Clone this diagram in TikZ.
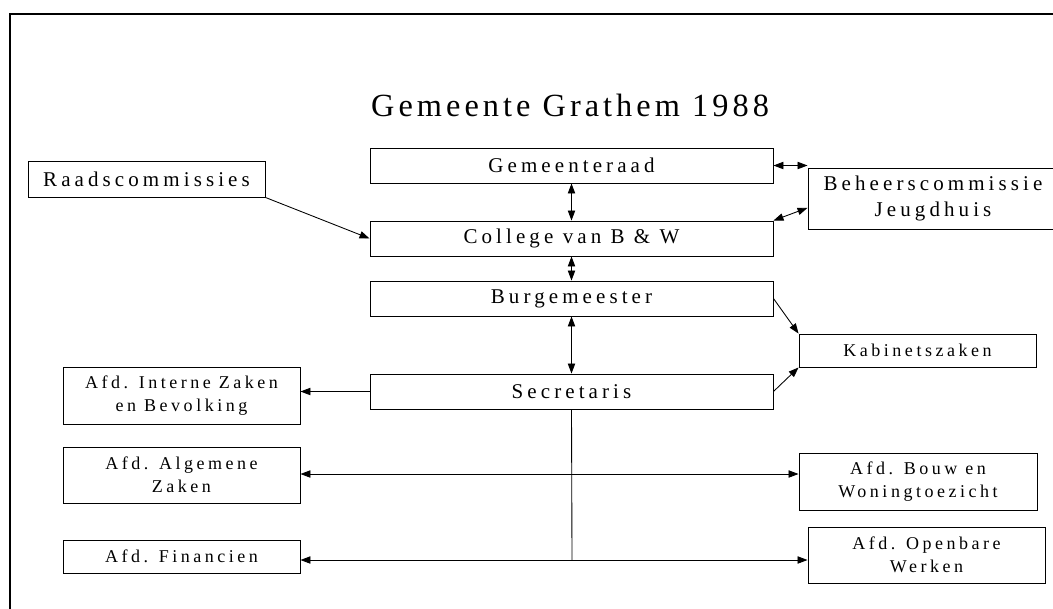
\documentclass[tikz,border=0pt]{standalone}
\usepackage{fontspec}
\setmainfont{Liberation Serif}
\newfontfamily\spacedfont[LetterSpace=19.5]{Liberation Serif}
\newfontfamily\titlefont[LetterSpace=12.5]{Liberation Serif}
\usetikzlibrary{arrows.meta}

\begin{document}
\begin{tikzpicture}[x=0.75pt, y=-0.75pt,
    box/.style={draw, line width=0.7pt, inner sep=0pt, align=center,
        font=\spacedfont\fontsize{15.75}{19.5}\selectfont},
    colbox/.style={box, minimum width=302.25pt, minimum height=26.25pt},
    sidebox/.style={box, minimum width=177.75pt,
        font=\spacedfont\fontsize{13.5}{17.5}\selectfont},
    link/.style={-{Triangle[length=7.5pt,width=5.5pt]}, line width=0.65pt},
    both/.style={{Triangle[length=7.5pt,width=5.5pt]}-{Triangle[length=7.5pt,width=5.5pt]}, line width=0.65pt}]
    \useasboundingbox (0,0) rectangle (1053,608);
    \draw[line width=1.1pt] (10,620) -- (10,14) -- (1065,14);
    \node[anchor=base, font=\titlefont\fontsize{24.25}{28}\selectfont] (title) at (570,116) {Gemeente Grathem 1988};
    % centrale kolom
    \node[colbox] (raad) at (571.5,165.5) {Gemeenteraad};
    \node[colbox] (college) at (571.5,238.5) {College van B \& W};
    \node[colbox] (burg) at (571.5,298.5) {Burgemeester};
    \node[colbox] (secr) at (571.5,391.5) {Secretaris};
    % zijkant
    \node[box, minimum width=177.75pt, minimum height=27pt] (rcomm) at (146.5,179) {Raadscommissies};
    \node[box, minimum width=187.5pt, minimum height=45.75pt] (beheer) at (933,198.5) {Beheerscommissie\\Jeugdhuis};
    \node[sidebox, minimum height=24.75pt] (kabinet) at (917.5,350.5) {Kabinetszaken};
    \node[sidebox, minimum height=42.75pt] (interne) at (181.5,395.5) {Afd. Interne Zaken\\en Bevolking};
    \node[sidebox, minimum height=42pt] (algemeen) at (181.5,475) {Afd. Algemene\\Zaken};
    \node[sidebox, minimum height=24.75pt] (financien) at (181.5,556.5) {Afd. Financien};
    \node[sidebox, minimum width=178.5pt, minimum height=42.75pt] (bouw) at (918,481.5) {Afd. Bouw en\\Woningtoezicht};
    \node[sidebox, minimum height=42pt] (openbaar) at (926.5,555) {Afd. Openbare\\Werken};
    \coordinate (j1) at (572,474);
    \coordinate (j2) at (572,560);
    \draw[both] (raad.south) -- (college.north);
    \draw[both] (college.south) -- (burg.north);
    \draw[both] (burg.south) -- (secr.north);
    \draw[link] (rcomm.south east) -- (college.west);
    \draw[both] (raad.east) -- (raad.east -| beheer.west);
    \draw[both] (college.north east) -- ([yshift=-7pt]beheer.west);
    \draw[link] (burg.east) -- (kabinet.north west);
    \draw[link] (secr.east) -- (kabinet.south west);
    \draw[link] (secr.west) -- (secr.west -| interne.east);
    \draw[line width=0.65pt] (secr.south) -- (j2);
    \draw[link] (j1) -- (j1 -| algemeen.east);
    \draw[link] (j1) -- (j1 -| bouw.west);
    \draw[link] (j2) -- (j2 -| financien.east);
    \draw[link] (j2) -- (j2 -| openbaar.west);
\end{tikzpicture}
\end{document}
